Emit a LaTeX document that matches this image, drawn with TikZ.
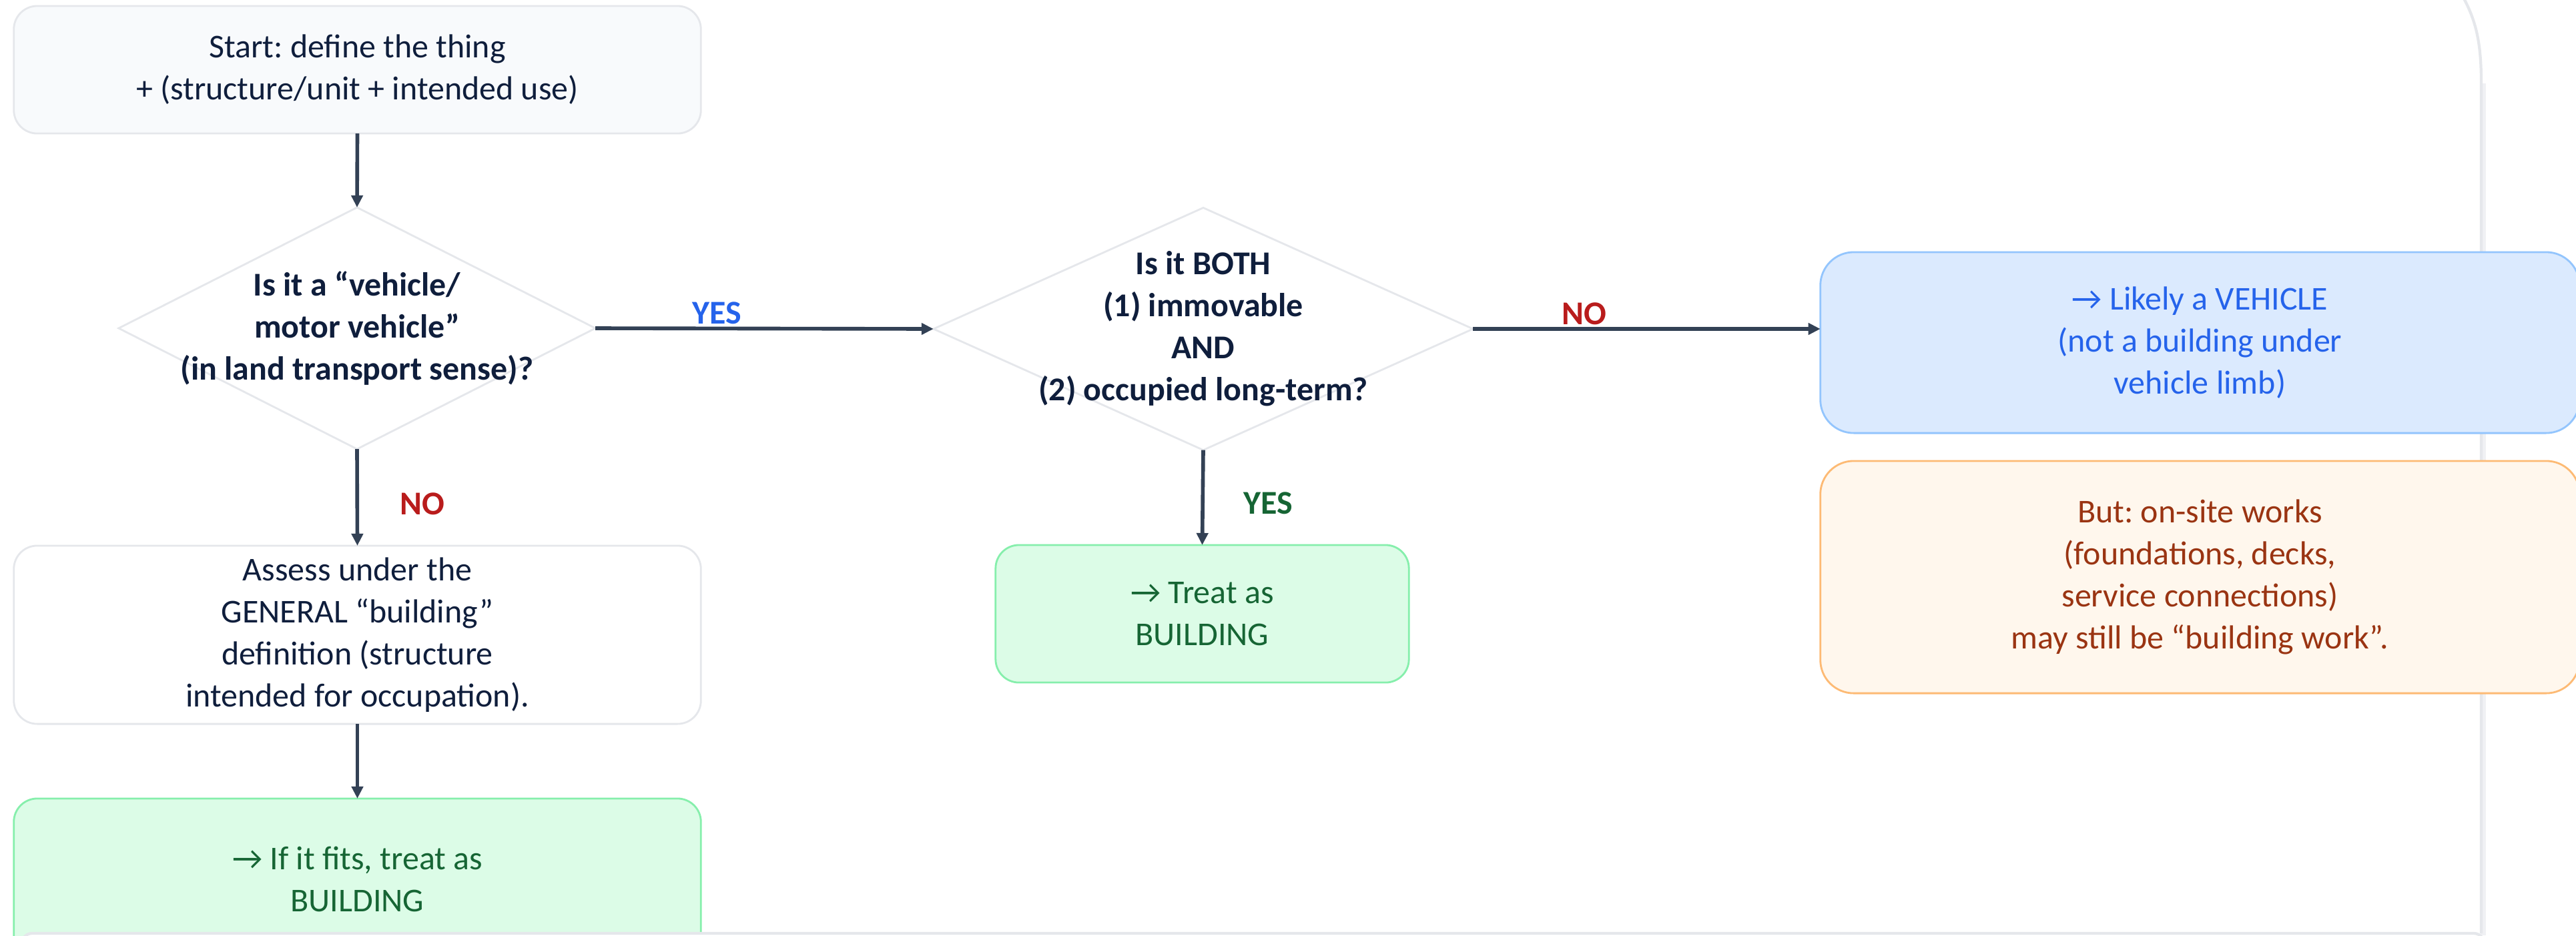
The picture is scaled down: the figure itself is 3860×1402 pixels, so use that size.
\documentclass[tikz,border=0pt]{standalone}
\usepackage{fontspec}
\setmainfont{Carlito}
\usepackage{tikz}
\usetikzlibrary{arrows.meta,shapes.geometric,positioning}
\definecolor{inknavy}{RGB}{15,30,60}
\definecolor{edgegray}{RGB}{229,231,235}
\definecolor{shadowgray}{RGB}{240,241,244}
\definecolor{flowslate}{RGB}{51,65,85}
\definecolor{startfill}{RGB}{248,250,252}
\definecolor{bldgreen}{RGB}{22,101,52}
\definecolor{bldfill}{RGB}{220,252,231}
\definecolor{bldline}{RGB}{134,239,172}
\definecolor{vehblue}{RGB}{37,99,235}
\definecolor{vehfill}{RGB}{219,234,254}
\definecolor{vehline}{RGB}{147,197,253}
\definecolor{worksbrown}{RGB}{154,52,18}
\definecolor{worksfill}{RGB}{255,247,237}
\definecolor{worksline}{RGB}{253,186,116}
\definecolor{nored}{RGB}{185,28,28}
\tikzset{
  box/.style={draw=edgegray, line width=0.8pt, rounded corners=0.35cm, align=center,
    text=inknavy, inner sep=0pt, outer sep=0pt, font=\fontsize{14.2}{17.9}\selectfont},
  sidebox/.style={box, rounded corners=0.5cm},
  decision/.style={diamond, draw=edgegray, line width=0.8pt, fill=white, inner sep=0pt, outer sep=0pt},
  question/.style={align=center, text=inknavy, font=\bfseries\fontsize{14.2}{17.9}\selectfont},
  flow/.style={draw=flowslate, line width=1.6pt, -{Triangle[length=0.18cm,width=0.17cm]}},
  branch/.style={font=\bfseries\fontsize{14.2}{17}\selectfont, inner sep=1pt},
}
\frenchspacing

\begin{document}
\begin{tikzpicture}[x=0.01cm, y=-0.01cm]
    \useasboundingbox (0,0) rectangle (3860,1402);

    % Outer card edge
    \draw[shadowgray, line width=2.5pt] (3721,125) -- (3721,1402);
    \draw[edgegray, line width=1.2pt] (3692,-2) .. controls (3712,35) and (3718,70) .. (3718,125) -- (3718,1399);

    % Start
    \node[box, fill=startfill, minimum width=10.29cm, minimum height=1.91cm] (start) at (535.5,104.5)
        {Start: define the thing\\+ (structure/unit + intended use)};

    % Decisions
    \node[decision, minimum width=7.14cm, minimum height=3.62cm] (d1) at (535,492) {};
    \node[question] (d1txt) at (d1.center) {Is it a “vehicle/\\motor vehicle”\\(in land transport sense)?};
    \node[decision, minimum width=8.08cm, minimum height=3.63cm] (d2) at (1803,493) {};
    \node[question] (d2txt) at (d2.center) {Is it BOTH\\(1) immovable\\AND\\(2) occupied long-term?};

    % Outcomes
    \node[box, fill=white, minimum width=10.29cm, minimum height=2.67cm] (assess) at (535.5,951.5)
        {Assess under the\\GENERAL “building”\\definition (structure\\intended for occupation).};
    \node[box, fill=bldfill, draw=bldline, text=bldgreen, minimum width=10.29cm, minimum height=2.42cm] (fits) at (535.5,1318)
        {→ If it fits, treat as\\BUILDING};
    \node[box, fill=bldfill, draw=bldline, text=bldgreen, minimum width=6.19cm, minimum height=2.06cm] (treat) at (1801.5,920)
        {→ Treat as\\BUILDING};
    \node[sidebox, fill=vehfill, draw=vehline, text=vehblue, minimum width=11.37cm, minimum height=2.71cm] (vehicle) at (3296.5,513.5)
        {→ Likely a VEHICLE\\(not a building under\\vehicle limb)};
    \node[sidebox, fill=worksfill, draw=worksline, text=worksbrown, minimum width=11.37cm, minimum height=3.48cm] (works) at (3296.5,865)
        {But: on-site works\\(foundations, decks,\\service connections)\\may still be “building work”.};

    % Lower card edge
    \draw[edgegray, fill=white, line width=1.2pt, rounded corners=0.15cm] (33,1480) -- (33,1399) -- (3722,1399) -- (3722,1480);

    % Connectors
    \draw[flow] (start.south) -- (d1.north);
    \draw[flow] (d1.east) -- node[branch, text=vehblue, pos=0.36, above] (yes1) {YES} (d2.west);
    \draw[flow] (d2.east) -- node[branch, text=nored, pos=0.32, above] (no1) {NO} (vehicle.west |- d2.east);
    \draw[flow] (d1.south) -- node[branch, text=nored, pos=0.57, right=0.58cm] (no2) {NO} (assess.north);
    \draw[flow] (d2.south) -- node[branch, text=bldgreen, pos=0.56, right=0.55cm] (yes2) {YES} (treat.north);
    \draw[flow] (assess.south) -- (fits.north);
\end{tikzpicture}
\end{document}
